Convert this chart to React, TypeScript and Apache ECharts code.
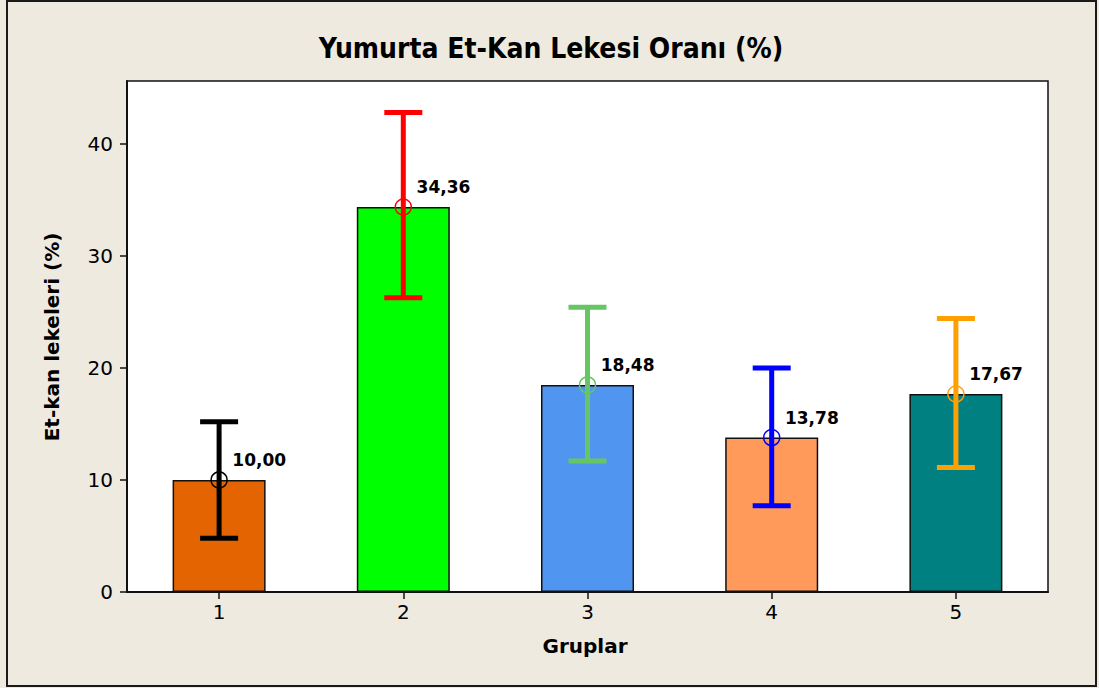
import React, { useEffect, useRef } from "react";
import * as echarts from "echarts";

const categories = ["1", "2", "3", "4", "5"];
const means = [10.0, 34.36, 18.48, 13.78, 17.67];
const lower = [4.8, 26.25, 11.7, 7.7, 11.1];
const upper = [15.2, 42.8, 25.4, 20.0, 24.4];
const barColors = ["#E36400", "#00FF00", "#5096F0", "#FF9A5A", "#008080"];
const errColors = ["#000000", "#FF0000", "#66C666", "#0000FF", "#FFA000"];
const yTicks = [0, 10, 20, 30, 40];

const FONT = "'DejaVu Sans', Verdana, sans-serif";

export default function App() {
  const ref = useRef<HTMLDivElement>(null);
  useEffect(() => {
    if (!ref.current) return;
    const chart = echarts.init(ref.current, null, { renderer: "svg" });
    const option: any = {
      animation: false,
      backgroundColor: "#EEEAE0",
      grid: {
        left: 127,
        top: 81,
        right: 51,
        bottom: 96,
        show: true,
        backgroundColor: "#FFFFFF",
        borderColor: "#111",
        borderWidth: 1.5,
      },
      graphic: [
        {
          type: "rect",
          shape: { x: 7, y: 1, width: 1089, height: 685 },
          style: { fill: "none", stroke: "#1a1a1a", lineWidth: 2 },
          silent: true,
        },
        {
          type: "text",
          x: 551,
          y: 48,
          style: {
            text: "Yumurta Et-Kan Lekesi Oranı (%)",
            font: `bold 28px 'DejaVu Sans Condensed', ${FONT}`,
            fill: "#000",
            align: "center",
            verticalAlign: "middle",
          },
        },
        {
          type: "text",
          x: 52,
          y: 337,
          rotation: Math.PI / 2,
          style: {
            text: "Et-kan lekeleri (%)",
            font: `bold 20px ${FONT}`,
            fill: "#000",
            align: "center",
            verticalAlign: "middle",
          },
        },
        {
          type: "text",
          x: 585,
          y: 646,
          style: {
            text: "Gruplar",
            font: `bold 20px ${FONT}`,
            fill: "#000",
            align: "center",
            verticalAlign: "middle",
          },
        },
      ],
      xAxis: {
        type: "category",
        data: categories,
        axisLine: { show: true, lineStyle: { color: "#111", width: 2 } },
        axisTick: { show: true, alignWithLabel: true, length: 7, lineStyle: { color: "#111", width: 1.5 } },
        axisLabel: { color: "#000", fontSize: 20, fontFamily: FONT, margin: 10 },
        splitLine: { show: false },
      },
      yAxis: {
        type: "value",
        min: 0,
        max: 45.6,
        interval: 10,
        axisLine: { show: true, lineStyle: { color: "#111", width: 2 } },
        axisTick: {
          show: true,
          length: 7,
          customValues: yTicks,
          lineStyle: { color: "#111", width: 1.5 },
        },
        axisLabel: {
          color: "#000",
          fontSize: 20,
          fontFamily: FONT,
          margin: 14,
          customValues: yTicks,
          formatter: (v: number) => (yTicks.includes(v) ? String(v) : ""),
        },
        splitLine: { show: false },
      },
      series: [
        {
          type: "bar",
          barWidth: 93,
          data: means.map((v, i) => ({
            value: v,
            itemStyle: { color: barColors[i], borderColor: "#111", borderWidth: 1.5 },
          })),
          z: 1,
        },
        {
          type: "custom",
          z: 3,
          data: categories.map((_, i) => [i, lower[i], upper[i]]),
          renderItem: (params: any, api: any) => {
            const x = api.value(0);
            const lo = api.coord([x, api.value(1)]);
            const hi = api.coord([x, api.value(2)]);
            const capW = 19;
            const style = { stroke: errColors[params.dataIndex], lineWidth: 5 };
            return {
              type: "group",
              children: [
                { type: "line", shape: { x1: lo[0], y1: lo[1], x2: hi[0], y2: hi[1] }, style },
                { type: "line", shape: { x1: lo[0] - capW, y1: lo[1], x2: lo[0] + capW, y2: lo[1] }, style },
                { type: "line", shape: { x1: hi[0] - capW, y1: hi[1], x2: hi[0] + capW, y2: hi[1] }, style },
              ],
            };
          },
        },
        {
          type: "scatter",
          z: 4,
          symbol: "circle",
          symbolSize: 16,
          itemStyle: { opacity: 1 },
          data: means.map((v, i) => ({
            value: [i, v],
            itemStyle: { color: "rgba(0,0,0,0)", borderColor: errColors[i], borderWidth: 1.5, opacity: 1 },
          })),
          label: {
            show: true,
            position: [22, -11],
            align: "left",
            verticalAlign: "middle",
            color: "#000",
            opacity: 1,
            fontWeight: "bold",
            fontSize: 17,
            fontFamily: FONT,
            formatter: (p: any) => p.value[1].toFixed(2).replace(".", ","),
          },
        },
      ],
    };
    chart.setOption(option);
    return () => chart.dispose();
  }, []);
  return (
    <div
      ref={ref}
      style={{ position: "fixed", left: 0, top: 0, width: 1099, height: 688 }}
    />
  );
}
